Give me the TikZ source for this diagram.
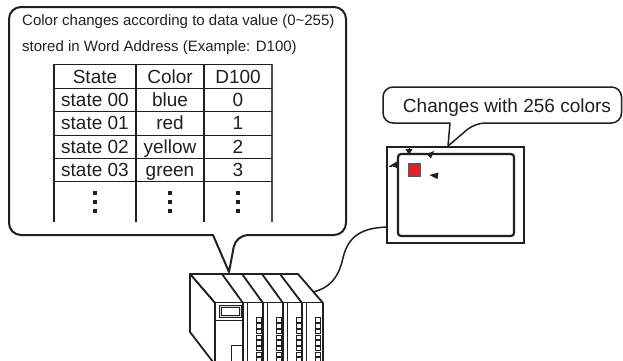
\documentclass[tikz,border=0pt]{standalone}
\usepackage{fontspec}
\setmainfont{Liberation Sans}
\usetikzlibrary{calc}
\definecolor{ink}{HTML}{231F20}
\definecolor{lampred}{HTML}{ED1C24}
\begin{document}
\begin{tikzpicture}[x=1pt,y=-1pt,
  callout/.style={draw=ink,line width=2pt,line join=round,fill=white},
  captxt/.style={font=\fontsize{15}{15}\selectfont,text=ink,anchor=base west,inner sep=0pt},
  cell/.style={font=\fontsize{19}{19}\selectfont,text=ink,anchor=base,inner sep=0pt},
  bigtxt/.style={font=\fontsize{19}{19}\selectfont,text=ink,anchor=base,inner sep=0pt},
  vline/.style={draw=ink,line width=1.6pt},
  hline/.style={draw=ink,line width=0.9pt},
  dotsq/.style={fill=ink,minimum width=3.6pt,minimum height=3.6pt,inner sep=0pt,draw=none},
  frameout/.style={draw=ink,line width=2.2pt,minimum width=137pt,minimum height=96pt,inner sep=0pt},
  framein/.style={draw=ink,line width=2.2pt,rounded corners=3pt,minimum width=116pt,minimum height=82pt,inner sep=0pt},
  lamp/.style={draw=black!65,line width=1.3pt,fill=lampred,minimum width=12pt,minimum height=12pt,inner sep=0pt},
  tri/.style={fill=ink,draw=none},
  plc/.style={draw=ink,line width=1.8pt,line join=round},
  plcthin/.style={draw=ink,line width=0.7pt},
  led/.style={draw=ink,line width=0.8pt,fill=white,minimum width=5pt,minimum height=4.4pt,inner sep=0pt},
  wire/.style={draw=ink,line width=1.5pt}
]
\useasboundingbox (0,0) rectangle (623,360);
\fill[white] (0,0) rectangle (623,360);

% ---------- big callout ----------
\draw[callout] (213,235) [rounded corners=12pt] -- (9,235) -- (9,7) -- (346,7) -- (346,235) -- (236,235) [sharp corners] -- (229,272) -- cycle;
\node[captxt] (cap1) at (22,25) {Color changes according to data value (0\textasciitilde 255)};
\node[captxt] (cap2) at (22,51) {stored in Word Address (Example: D100)};

% table lines
\foreach \x in {54,136,204}{\draw[vline] (\x,64) -- (\x,222);}
\draw[vline,line width=1.1pt,draw=black!70] (272,64) -- (272,222);
\foreach \y in {64,88,111,135,158,181}{\draw[hline] (54,\y) -- (272,\y);}

% table text
\node[cell] (h1) at (95,83) {State};
\node[cell] (h2) at (170,83) {Color};
\node[cell] (h3) at (238,83) {D100};
\node[cell] (a1) at (95,106.5) {state 00};
\node[cell] (a2) at (170,106.5) {blue};
\node[cell] (a3) at (238,106.5) {0};
\node[cell] (b1) at (95,129.5) {state 01};
\node[cell] (b2) at (170,129.5) {red};
\node[cell] (b3) at (238,129.5) {1};
\node[cell] (c1) at (95,153) {state 02};
\node[cell] (c2) at (170,153) {yellow};
\node[cell] (c3) at (238,153) {2};
\node[cell] (d1) at (95,176) {state 03};
\node[cell] (d2) at (170,176) {green};
\node[cell] (d3) at (238,176) {3};
\foreach \x/\n in {95/p,170/q,238/r}{
  \node[dotsq] (\n1) at (\x,193) {};
  \node[dotsq] (\n2) at (\x,202) {};
  \node[dotsq] (\n3) at (\x,211) {};
}

% ---------- screen ----------
\node[frameout] (scr) at (455.5,195) {};
\node[framein] (scrin) at (456,195) {};
\node[lamp] (lamp) at (414.5,170) {};
% small markers
\draw[ink,line width=0.9pt] (409,147) -- (409,150);
\fill[tri] (405.5,149) -- (412.5,149) -- (409,155) -- cycle;
\fill[tri] (434,151) -- (426.5,154) -- (431,158.5) -- cycle;
\draw[ink,line width=0.9pt] (389,166) -- (392,166);
\fill[tri] (390,165.5) -- (397,161.5) -- (397,168) -- cycle;
\fill[tri] (429.5,175) -- (438.5,172.5) -- (437.5,179) -- cycle;

% ---------- small callout ----------
\draw[callout,line width=1.5pt] (450,123) [rounded corners=10pt] -- (383,123) -- (383,87) -- (621.5,87) -- (621.5,123) -- (475,123) [sharp corners] -- (448,146) -- cycle;
\node[bigtxt] (note) at (507,112) {Changes with 256 colors};

% ---------- PLC ----------
\draw[plc,fill=white] (190,274) -- (298,274) -- (323,303) -- (215,303) -- cycle;
\draw[plc,fill=white] (190,274) -- (190,332) -- (213,362) -- (215,362) -- (215,303) -- cycle;
\fill[white] (215,303) rectangle (323,362);
\draw[plc] (215,303) -- (215,362);
\draw[plc] (323,303) -- (323,362);
\foreach \b/\f in {222/243,242/263,262/283,280/302}{
  \draw[plc] (\b,274) -- (\f,303);
  \draw[plc] (\f,303) -- (\f,362);
  \draw[plcthin] (\f+4,303) -- (\f+4,362);
}
\foreach \f in {243,263,283,302}{
  \foreach \k in {0,...,7}{
    \node[led] at (\f+15.5,320+\k*5.7) {};
  }
}
% CPU module details
\draw[plcthin,line width=1pt,fill=black!15] (219,305) rectangle (241,317);
\draw[plcthin,fill=white] (221,307) rectangle (239,315);
\draw[plcthin,line width=1pt] (215,320) -- (243,320);
\draw[plcthin,line width=1pt] (231.5,345) rectangle (242,362);
\coordinate (plcin) at (313.5,292);
\coordinate (scrout) at ($(scr.south west)+(0,-17)$);

% ---------- connector ----------
\draw[wire] (scrout) .. controls (362,228) and (348,236) .. (343,258) .. controls (338,280) and (328,288) .. (plcin);
\end{tikzpicture}
\end{document}
